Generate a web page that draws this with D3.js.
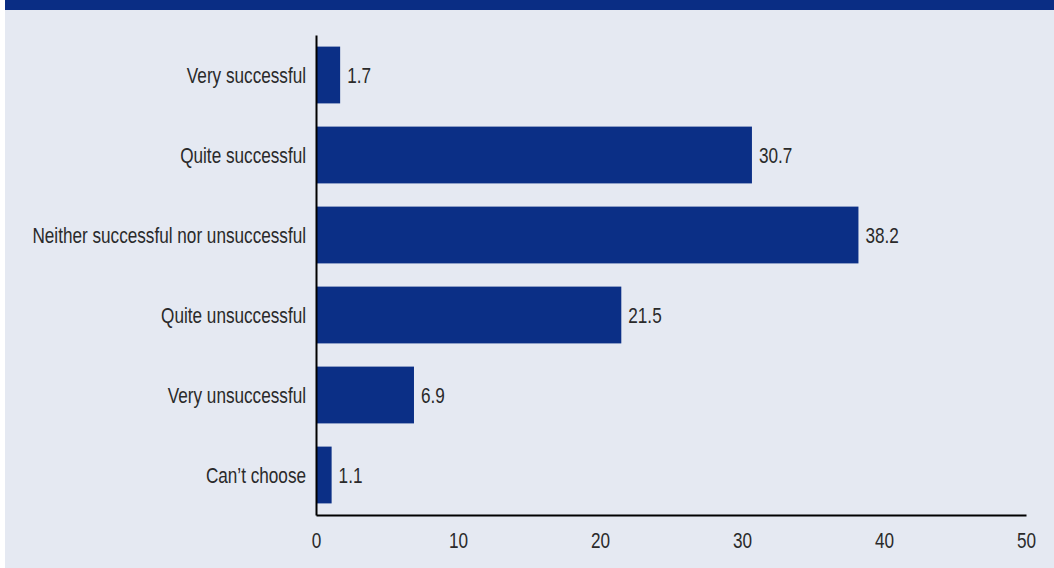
<!DOCTYPE html>
<html>
<head>
<meta charset="utf-8">
<script src="https://cdn.jsdelivr.net/npm/d3@7"></script>
<style>
  html, body { margin: 0; padding: 0; background: #ffffff; }
  svg { display: block; }
</style>
</head>
<body>
<svg id="chart" width="1054" height="568"></svg>
<script>
// Survey responses, per cent
const categories = [
  "Very successful",
  "Quite successful",
  "Neither successful nor unsuccessful",
  "Quite unsuccessful",
  "Very unsuccessful",
  "Can\u2019t choose"
];
const values = [1.7, 30.7, 38.2, 21.5, 6.9, 1.1];
const xTicks = [0, 10, 20, 30, 40, 50];

const W = 1054, H = 568;
const FONT = "'Liberation Sans', Arial, sans-serif";
const FONT_SIZE = 22;
const SQUEEZE = 0.78; // horizontal condensing of the sans face
const BAR = "#0b2f86";
const INK = "#2a2a2a";

const svg = d3.select("#chart");

// condense text horizontally around its own anchor point
function condense(sel) {
  sel.each(function () {
    const t = d3.select(this);
    const ax = +t.attr("x") || 0;
    t.attr("transform", `translate(${ax},0) scale(${SQUEEZE},1) translate(${-ax},0)`);
  });
}

// panel background and header band
svg.append("rect").attr("x", 5).attr("y", 0).attr("width", W - 5).attr("height", H)
  .attr("fill", "#e5e9f2");
svg.append("rect").attr("x", 5).attr("y", 0).attr("width", W - 5).attr("height", 10)
  .attr("fill", "#0a2d84");

const x = d3.scaleLinear().domain([0, 50]).range([316, 1026]);
const y = d3.scaleBand().domain(categories).range([35, 515])
  .paddingInner(0.29).paddingOuter(0.145);

const data = categories.map((c, i) => ({ c, v: values[i] }));

// bars
svg.append("g").selectAll("rect").data(data).join("rect")
  .attr("x", x(0))
  .attr("y", d => y(d.c))
  .attr("width", d => x(d.v) - x(0))
  .attr("height", y.bandwidth())
  .attr("fill", BAR);

// value labels
svg.append("g").selectAll("text").data(data).join("text")
  .attr("x", d => x(d.v) + 7)
  .attr("y", d => y(d.c) + y.bandwidth() / 2)
  .attr("dy", "0.36em")
  .attr("font-family", FONT)
  .attr("font-size", FONT_SIZE)
  .attr("fill", INK)
  .text(d => d.v.toFixed(1))
  .call(condense);

// x axis
const gx = svg.append("g").attr("transform", "translate(0,515)")
  .call(d3.axisBottom(x).tickValues(xTicks).tickSize(0).tickSizeOuter(0).tickPadding(17));
gx.attr("font-family", FONT).attr("font-size", FONT_SIZE);
gx.select(".domain").attr("stroke", "#000").attr("stroke-width", 2);
gx.selectAll(".tick text").attr("fill", INK).call(condense);

// y axis with category labels
const gy = svg.append("g").attr("transform", "translate(316,0)")
  .call(d3.axisLeft(y).tickSize(0).tickSizeOuter(0).tickPadding(10));
gy.attr("font-family", FONT).attr("font-size", FONT_SIZE);
gy.select(".domain").attr("stroke", "#000").attr("stroke-width", 2);
gy.selectAll(".tick text").attr("fill", INK).attr("dy", "0.36em").call(condense);
</script>
</body>
</html>
